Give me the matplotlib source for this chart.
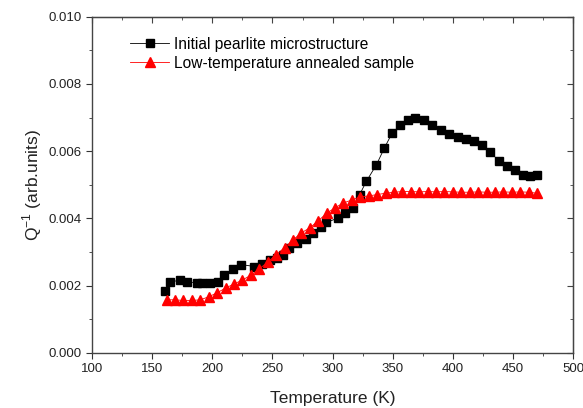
import matplotlib
matplotlib.use("Agg")
import matplotlib.pyplot as plt
from matplotlib.ticker import MultipleLocator

plt.rcParams['font.family'] = ['Liberation Sans', 'DejaVu Sans']

# black squares: initial pearlite microstructure
temp_initial = [160.6, 164.7, 173, 179, 187, 191, 198, 205, 210, 217, 223.6,
                235, 241, 248, 254, 259, 264, 270, 277.6, 283.7, 290.6, 294.8,
                304.4, 310, 316.8, 322.4, 328, 336.5, 343, 349.5, 356.4, 362.5,
                368.9, 376.3, 382.7, 390, 396.5, 404, 411, 417.8, 424, 430.8,
                438.6, 445, 451.9, 458.5, 464, 469.8]
q_initial = [0.00185, 0.00210, 0.00217, 0.00211, 0.00209, 0.00209, 0.00207,
             0.00212, 0.00233, 0.00249, 0.00263, 0.00257, 0.00265, 0.00275,
             0.00282, 0.00292, 0.00311, 0.00326, 0.00338, 0.00356, 0.00376,
             0.00388, 0.00401, 0.00416, 0.00431, 0.00470, 0.00510, 0.00560,
             0.00609, 0.00654, 0.00677, 0.00693, 0.00700, 0.00693, 0.00677,
             0.00664, 0.00650, 0.00642, 0.00637, 0.00630, 0.00619, 0.00597,
             0.00571, 0.00557, 0.00545, 0.00530, 0.00525, 0.00530]

# red triangles: low-temperature annealed sample
temp_annealed = [162, 169, 176, 183, 190, 197, 204, 211, 218, 225, 232, 239,
                 246, 253, 260, 267, 274, 281, 288, 295, 302, 309, 316, 323,
                 330, 337, 344, 351, 358, 365, 372, 379, 386, 393, 400, 407,
                 414, 421, 428, 435, 442, 449, 456, 463, 470]
q_annealed = [0.00158, 0.00158, 0.00156, 0.00156, 0.00158, 0.00167, 0.00179,
              0.00193, 0.00205, 0.00217, 0.00231, 0.00250, 0.00270, 0.00292,
              0.00313, 0.00336, 0.00357, 0.00372, 0.00393, 0.00415, 0.00432,
              0.00446, 0.00455, 0.00464, 0.00467, 0.00471, 0.00475, 0.00478,
              0.00480, 0.00480, 0.00479, 0.00480, 0.00479, 0.00480, 0.00479,
              0.00478, 0.00478, 0.00479, 0.00478, 0.00478, 0.00479, 0.00478,
              0.00479, 0.00478, 0.00475]

fig = plt.figure(figsize=(5.83, 4.08), dpi=100)
ax = fig.add_axes([0.158, 0.135, 0.825, 0.824])

ax.plot(temp_initial, q_initial, color='black', marker='s', markersize=5.5,
        linewidth=0.6, label='Initial pearlite microstructure')
ax.plot(temp_annealed, q_annealed, color='red', marker='^', markersize=6.5,
        linewidth=0.6, label='Low-temperature annealed sample')

ax.set_xlim(100, 500)
ax.set_ylim(0, 0.010)
ax.xaxis.set_major_locator(MultipleLocator(50))
ax.xaxis.set_minor_locator(MultipleLocator(25))
ax.yaxis.set_major_locator(MultipleLocator(0.002))
ax.yaxis.set_minor_locator(MultipleLocator(0.001))
ax.yaxis.set_major_formatter(plt.FormatStrFormatter('%.3f'))

ax.tick_params(which='both', direction='out', labelsize=9.5, colors='#333333',
               labelcolor='#222222')
ax.tick_params(which='major', length=4)
ax.tick_params(which='minor', length=2)
for s in ax.spines.values():
    s.set_color('#444444')
    s.set_linewidth(1)

# inward ticks on top and right, no labels
top = ax.secondary_xaxis('top')
top.set_xticks(range(100, 501, 50))
top.xaxis.set_minor_locator(MultipleLocator(25))
top.tick_params(which='both', direction='in', labeltop=False, colors='#444444')
top.tick_params(which='major', length=4)
top.tick_params(which='minor', length=2)
right = ax.secondary_yaxis('right')
right.yaxis.set_major_locator(MultipleLocator(0.002))
right.yaxis.set_minor_locator(MultipleLocator(0.001))
right.tick_params(which='both', direction='in', labelright=False, colors='#444444')
right.tick_params(which='major', length=4)
right.tick_params(which='minor', length=2)

ax.set_xlabel('Temperature (K)', fontsize=12.5, color='#222222', labelpad=11)
ax.set_ylabel('Q$^{\\mathregular{-1}}$ (arb.units)', fontsize=12.5,
              color='#222222', labelpad=3)

ax.legend(loc='upper left', bbox_to_anchor=(0.05, 0.982), frameon=False,
          fontsize=11.2, handlelength=2.5, handletextpad=0.3, labelspacing=0.25)

fig.savefig('out.png', dpi=100)
